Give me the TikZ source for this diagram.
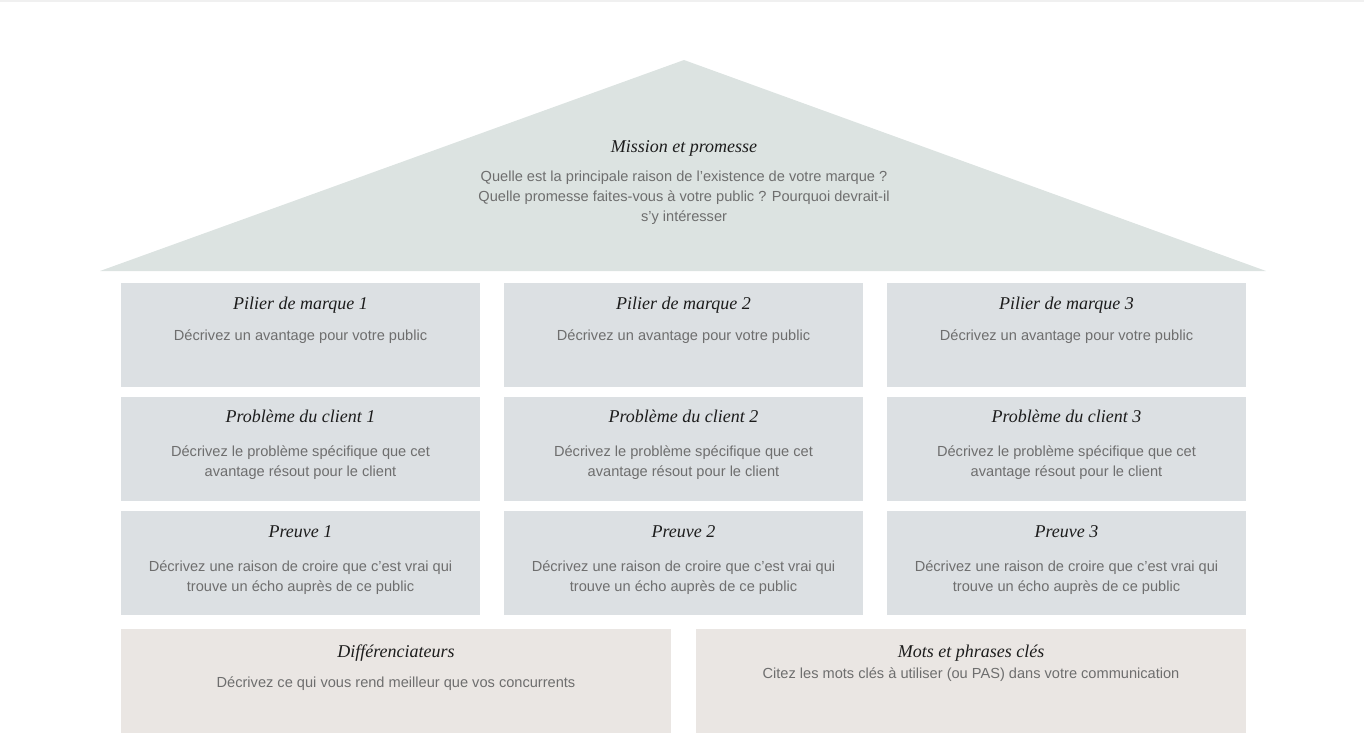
\documentclass[tikz,border=0pt]{standalone}
\usepackage{fontspec}
\setmainfont{Liberation Serif}
\setsansfont{Liberation Sans}
\usetikzlibrary{positioning}
\definecolor{roofgray}{HTML}{DCE3E1}
\definecolor{pillargray}{HTML}{DCE0E3}
\definecolor{basebeige}{HTML}{EAE6E3}
\definecolor{titleink}{HTML}{1C1C1C}
\definecolor{bodyink}{HTML}{6E6E6E}
\definecolor{edgegray}{HTML}{F0F0F0}
\tikzset{
    block/.style={rectangle, inner sep=0pt, minimum width=359pt, minimum height=104pt, fill=pillargray},
    baseblock/.style={block, minimum width=550pt, fill=basebeige},
    heading/.style={text=titleink, font=\itshape\fontsize{18}{22}\selectfont, inner sep=0pt},
    blurb/.style={text=bodyink, font=\sffamily\fontsize{14.6}{20}\selectfont, align=center, inner sep=0pt}
}
\begin{document}
\begin{tikzpicture}[x=1pt, y=-1pt]
    \useasboundingbox (0,0) rectangle (1364,733);
    \fill[edgegray] (0,0) rectangle (1364,2.5);
    % roof
    \fill[roofgray] (100,271) -- (684,60) -- (1266,271) -- cycle;
    \node[heading] (mission) at (684,148) {Mission et promesse};
    \node[blurb, below=15pt of mission] (missiontxt) {Quelle est la principale raison de l'existence de votre marque ?\\Quelle promesse faites-vous à votre public ? Pourquoi devrait-il\\s'y intéresser};
    % pillars
    \foreach \i/\x in {1/300.5, 2/683.5, 3/1066.5} {
        \node[block] (pilier\i) at (\x,335) {};
        \node[heading, below=14pt of pilier\i.north] (piliertitle\i) {Pilier de marque \i};
        \node[blurb, below=16pt of piliertitle\i] {Décrivez un avantage pour votre public};
        \node[block] (probleme\i) at (\x,449) {};
        \node[heading, below=13pt of probleme\i.north] (problemetitle\i) {Problème du client \i};
        \node[blurb, below=23pt of problemetitle\i] {Décrivez le problème spécifique que cet\\avantage résout pour le client};
        \node[block] (preuve\i) at (\x,563) {};
        \node[heading, below=15pt of preuve\i.north] (preuvetitle\i) {Preuve \i};
        \node[blurb, below=22pt of preuvetitle\i] {Décrivez une raison de croire que c’est vrai qui\\trouve un écho auprès de ce public};
    }
    % base
    \node[baseblock] (diff) at (396,681) {};
    \node[heading, below=16pt of diff.north] (difftitle) {Différenciateurs};
    \node[blurb, below=15pt of difftitle] {Décrivez ce qui vous rend meilleur que vos concurrents};
    \node[baseblock] (mots) at (971,681) {};
    \node[heading, below=16pt of mots.north] (motstitle) {Mots et phrases clés};
    \node[blurb, below=6pt of motstitle] {Citez les mots clés à utiliser (ou PAS) dans votre communication};
\end{tikzpicture}
\end{document}
